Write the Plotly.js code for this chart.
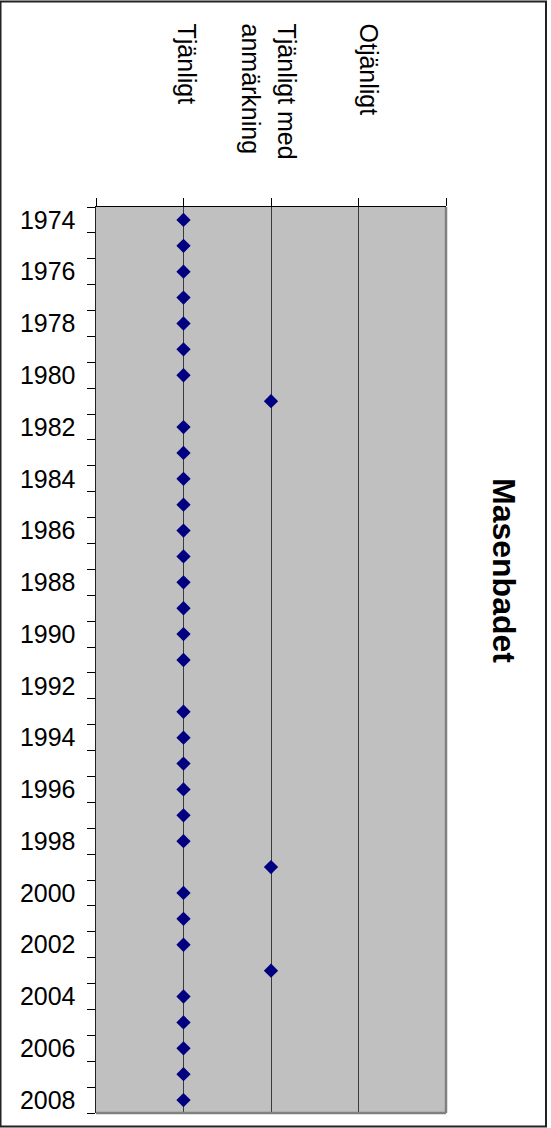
<!DOCTYPE html>
<html>
<head>
<meta charset="utf-8">
<script src="https://cdn.plot.ly/plotly-3.0.1.min.js"></script>
<style>
  html, body { margin: 0; padding: 0; background: #fff; }
  #chart { width: 551px; height: 1128px; }
</style>
</head>
<body>
<div id="chart"></div>
<script>
// ---- data ----
const categories = ['Tjänligt', 'Tjänligt med anmärkning', 'Otjänligt'];
const categoryLines = [['Tjänligt'], ['Tjänligt med', 'anmärkning'], ['Otjänligt']];
const years = [1974, 1975, 1976, 1977, 1978, 1979, 1980, 1981, 1982, 1983,
               1984, 1985, 1986, 1987, 1988, 1989, 1990, 1991, 1992, 1993,
               1994, 1995, 1996, 1997, 1998, 1999, 2000, 2001, 2002, 2003,
               2004, 2005, 2006, 2007, 2008];
// quality level: 1 = Tjänligt, 2 = Tjänligt med anmärkning, 3 = Otjänligt, null = no sample
const quality = [1, 1, 1, 1, 1, 1, 1, 2, 1, 1,
                 1, 1, 1, 1, 1, 1, 1, 1, null, 1,
                 1, 1, 1, 1, 1, 2, 1, 1, 1, 2,
                 1, 1, 1, 1, 1];
const yearLabels = ['1974', '1976', '1978', '1980', '1982', '1984', '1986', '1988', '1990',
                    '1992', '1994', '1996', '1998', '2000', '2002', '2004', '2006', '2008'];
const title = 'Masenbadet';

// ---- layout constants ----
const L = 96, R = 446, T = 207, B = 1113;
const W = 551, H = 1128;
const pw = R - L, ph = B - T;
const px = v => (v - L) / pw;
const py = v => (B - v) / ph;
const FONT = '"Liberation Sans", Arial, Helvetica, sans-serif';

const trace = {
  type: 'scatter',
  mode: 'markers',
  x: quality,
  y: years,
  marker: { symbol: 'diamond', size: 11, color: '#000080', line: { width: 0 } },
  hoverinfo: 'x+y',
  cliponaxis: false
};

const boundaries = years.map(y => y - 0.5).concat([years[years.length - 1] + 0.5]);

// category labels (rotated)
const labelShift = [[3], [15, -20.5], [9.5]];
const annotations = [];
categoryLines.forEach((lines, i) => {
  lines.forEach((ln, j) => {
    annotations.push({
      text: ln, xref: 'x', x: i + 1, yref: 'paper', y: py(21.5),
      xanchor: 'center', yanchor: 'top', textangle: 90, showarrow: false,
      xshift: labelShift[i][j],
      font: { family: FONT, size: 25, color: '#000' }
    });
  });
});
annotations.push({
  text: '<b>' + title + '</b>', xref: 'paper', x: px(504), yref: 'paper', y: py(570),
  xanchor: 'center', yanchor: 'middle', textangle: 90, showarrow: false,
  font: { family: FONT, size: 32, color: '#000' }
});

const layout = {
  width: W, height: H,
  margin: { l: L, r: W - R, t: T, b: H - B, pad: 0 },
  paper_bgcolor: '#ffffff',
  plot_bgcolor: '#c0c0c0',
  showlegend: false,
  font: { family: FONT, color: '#000' },
  xaxis: {
    side: 'top',
    range: [0, categories.length + 1],
    tickmode: 'array',
    tickvals: [0, 1, 2, 3, 4],
    showticklabels: false,
    ticks: 'outside', ticklen: 8, tickwidth: 1, tickcolor: '#000',
    showgrid: true, gridcolor: '#3a3a3a', gridwidth: 1,
    showline: true, linecolor: '#000', linewidth: 1,
    zeroline: false, fixedrange: true
  },
  yaxis: {
    range: [years[years.length - 1] + 0.5, years[0] - 0.5],
    tickmode: 'array',
    tickvals: yearLabels.map(Number),
    ticktext: yearLabels,
    ticks: '',
    ticklabelstandoff: 14,
    tickfont: { family: FONT, size: 25, color: '#000' },
    minor: { tickmode: 'array', tickvals: boundaries, ticks: 'outside', ticklen: 8,
             tickwidth: 1, tickcolor: '#000', showgrid: false },
    showgrid: false,
    showline: true, linecolor: '#222', linewidth: 1.5,
    zeroline: false, fixedrange: true
  },
  shapes: [
    // plot area right & bottom border (grey)
    { type: 'line', xref: 'paper', yref: 'paper', x0: 1, x1: 1, y0: 0, y1: 1,
      line: { color: '#808080', width: 2.5 }, layer: 'above' },
    { type: 'line', xref: 'paper', yref: 'paper', x0: 0, x1: 1, y0: 0, y1: 0,
      line: { color: '#808080', width: 2.5 }, layer: 'above' },
    // outer frame
    { type: 'rect', xref: 'paper', yref: 'paper',
      x0: px(0.5), x1: px(546), y0: py(1126.5), y1: py(1.5),
      line: { color: '#222', width: 2 }, layer: 'above' }
  ],
  annotations: annotations
};

Plotly.newPlot('chart', [trace], layout, { staticPlot: true, displayModeBar: false });
</script>
</body>
</html>
